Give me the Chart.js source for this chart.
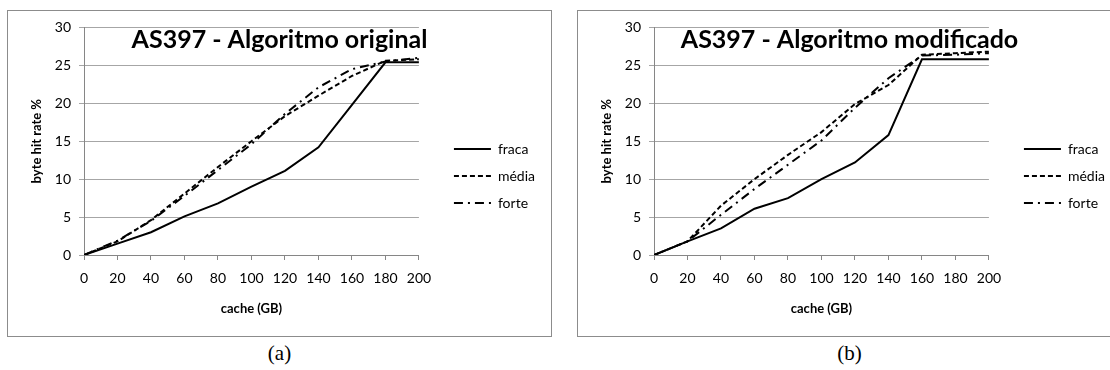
<!DOCTYPE html>
<html>
<head>
<meta charset="utf-8">
<script src="https://cdn.jsdelivr.net/npm/chart.js@4.4.1/dist/chart.umd.min.js"></script>
<style>
  body { margin: 0; background: #fff; width: 1110px; height: 370px; overflow: hidden; position: relative; }
  .box { position: absolute; top: 10px; width: 543px; height: 325px; border: 1px solid #8c8c8c; background: #fff; }
  .cap { position: absolute; top: 341px; width: 545px; text-align: center; font: 21px "Liberation Serif", serif; color: #000; }
</style>
</head>
<body>
<div class="box" style="left:7px"><canvas id="chartA" width="543" height="325"></canvas></div>
<div class="box" style="left:577px"><canvas id="chartB" width="543" height="325"></canvas></div>
<div class="cap" style="left:7px">(a)</div>
<div class="cap" style="left:577px">(b)</div>
<script>
  const cacheGB = [0, 20, 40, 60, 80, 100, 120, 140, 160, 180, 200];

  // (a) algoritmo original
  const fracaA = [0, 1.5, 3.0, 5.1, 6.8, 9.0, 11.1, 14.2, 19.8, 25.4, 25.4];
  const mediaA = [0, 1.8, 4.6, 8.1, 11.6, 15.0, 18.3, 21.0, 23.6, 25.6, 25.8];
  const forteA = [0, 1.9, 4.5, 7.8, 11.2, 14.6, 18.6, 22.1, 24.5, 25.5, 26.0];

  // (b) algoritmo modificado
  const fracaB = [0, 1.8, 3.5, 6.1, 7.5, 10.0, 12.2, 15.8, 25.8, 25.8, 25.8];
  const mediaB = [0, 1.8, 6.5, 10.0, 13.2, 16.2, 19.9, 22.4, 26.4, 26.6, 26.8];
  const forteB = [0, 1.8, 5.3, 8.7, 11.9, 15.1, 19.4, 23.3, 26.3, 26.4, 26.6];

  const seriesNames = ["fraca", "média", "forte"];
  const titles = ["AS397 - Algoritmo original", "AS397 - Algoritmo modificado"];

  Chart.defaults.font.family = "Lato";
  Chart.defaults.color = "#000";

  // title is drawn over the plot, like in the spreadsheet
  const overlayTitle = {
    id: "overlayTitle",
    afterDraw(chart, args, opts) {
      const ctx = chart.ctx;
      ctx.save();
      ctx.font = "bold 25px Lato";
      ctx.fillStyle = "#000";
      ctx.textAlign = "center";
      ctx.textBaseline = "alphabetic";
      ctx.fillText(opts.text, chart.width / 2, 37);
      ctx.restore();
    }
  };

  function toPoints(values) {
    return cacheGB.map((x, i) => ({ x: x, y: values[i] }));
  }

  function makeChart(id, title, fraca, media, forte) {
    const dashes = [[], [5, 3], [9, 5, 2, 5]];
    const values = [fraca, media, forte];
    return new Chart(document.getElementById(id), {
      type: "line",
      data: {
        datasets: seriesNames.map((name, i) => ({
          label: name,
          data: toPoints(values[i]),
          borderColor: "#000",
          backgroundColor: "#000",
          borderWidth: 2,
          borderDash: dashes[i],
          pointRadius: 0,
          pointStyle: "line",
          tension: 0
        }))
      },
      plugins: [overlayTitle],
      options: {
        responsive: false,
        animation: false,
        devicePixelRatio: 1,
        layout: { padding: { left: 19, top: 16, right: 6, bottom: 11 } },
        plugins: {
          overlayTitle: { text: title },
          tooltip: { enabled: false },
          legend: {
            position: "right",
            maxWidth: 140,
            labels: {
              usePointStyle: true,
              pointStyleWidth: 37,
              padding: 13,
              font: { size: 14 },
              generateLabels(chart) {
                return chart.data.datasets.map((ds, i) => ({
                  text: ds.label,
                  fillStyle: "#000",
                  strokeStyle: "#000",
                  lineWidth: 2,
                  lineDash: ds.borderDash,
                  pointStyle: "line",
                  hidden: false,
                  datasetIndex: i
                }));
              }
            }
          }
        },
        scales: {
          x: {
            type: "linear",
            min: 0,
            max: 200,
            ticks: { stepSize: 20, padding: 10, font: { size: 14 } },
            grid: { drawOnChartArea: false, tickLength: 5, color: "#868686" },
            border: { color: "#868686" },
            title: { display: true, text: "cache (GB)", font: { size: 13, weight: "bold" }, padding: { top: 4, bottom: 8 } },
            afterFit(s) { s.height = 70; }
          },
          y: {
            min: 0,
            max: 30,
            ticks: { stepSize: 5, padding: 8, font: { size: 14 } },
            grid: { color: "#a6a6a6", tickLength: 5 },
            border: { color: "#868686" },
            title: { display: true, text: "byte hit rate %", font: { size: 13, weight: "bold" }, padding: { top: 2, bottom: 2 } },
            afterFit(s) { s.width = 57; }
          },
          gap: {
            type: "linear",
            position: "right",
            grid: { display: false },
            border: { display: false },
            ticks: { display: false },
            afterFit(s) { s.width = 22; }
          }
        }
      }
    });
  }

  makeChart("chartA", titles[0], fracaA, mediaA, forteA);
  makeChart("chartB", titles[1], fracaB, mediaB, forteB);
</script>
</body>
</html>
